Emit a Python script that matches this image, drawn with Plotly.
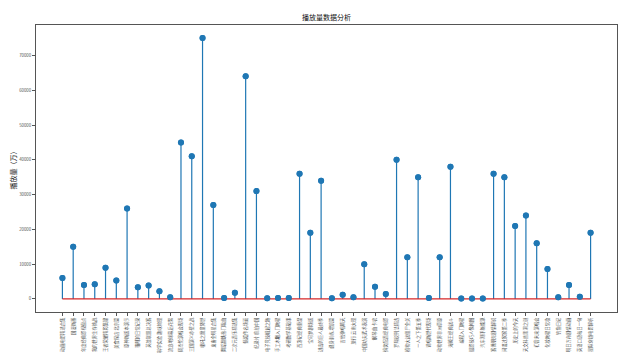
import plotly.graph_objects as go

titles = [
    "动画电影精选合集", "国漫新番", "年度经典影视盘点", "我的世界生存挑战",
    "王者荣耀精彩集锦", "美食探店 北京篇", "原神新版本演示", "猫咪的日常记录",
    "英雄联盟总决赛", "科学实验 趣味物理", "流浪地球幕后花絮", "周杰伦演唱会现场",
    "三国演义赤壁之战", "哪吒之魔童降世", "鬼畜全明星合集", "舞蹈翻跳热门歌曲",
    "二次元音乐精选集", "甄嬛传名场面", "纪录片 航拍中国", "电子竞技崛起之路",
    "手工木雕入门教程", "考研数学基础课", "西游记经典重温", "宝可梦剧场版",
    "进击的巨人最终季", "健身训练 增肌篇", "吉他弹唱晴天", "旅行 云南大理",
    "中国功夫武术表演", "钢琴曲 卡农", "搞笑配音经典电影", "罗翔说刑法精选",
    "植物大战僵尸全关", "一人之下第五季", "说唱新世代现场", "动物世界非洲草原",
    "海贼王经典战斗", "编程入门教程", "摄影技巧人像构图", "汽车测评新能源",
    "赛博朋克剧情解说", "间谍过家家第二季", "历史上的今天", "天文科普黑洞之谜",
    "初音未来演唱会", "化妆教程日常妆", "钓鱼日记", "明日方舟剧情动画",
    "英语口语每日一句", "星际穿越电影解析",
]
plays = [
    6000, 15000, 4000, 4200, 9000, 5300, 26000, 3400, 3900, 2200,
    500, 45000, 41000, 75000, 27000, 300, 1800, 64000, 31000, 200,
    300, 300, 36000, 19000, 34000, 200, 1200, 500, 10000, 3500,
    1400, 40000, 12000, 35000, 300, 12000, 38000, 100, 100, 100,
    36000, 35000, 21000, 24000, 16000, 8600, 500, 4000, 600, 19000,
]
y_ticks = [0, 10000, 20000, 30000, 40000, 50000, 60000, 70000]

idx = list(range(len(plays)))
blue = "#1f77b4"
red = "#d62728"
font = "Noto Sans CJK SC, DejaVu Sans, sans-serif"

fig = go.Figure()
# stems via error bars down to zero
fig.add_trace(go.Scatter(
    x=idx, y=plays, mode="markers",
    marker=dict(color=blue, size=6),
    error_y=dict(type="data", symmetric=False, array=[0] * len(plays), arrayminus=plays,
                 color=blue, thickness=1.2, width=0),
    showlegend=False, hoverinfo="skip",
))
fig.add_trace(go.Scatter(
    x=[idx[0], idx[-1]], y=[0, 0], mode="lines",
    line=dict(color=red, width=1.3), showlegend=False, hoverinfo="skip",
))
fig.add_trace(go.Scatter(
    x=idx, y=plays, mode="markers", marker=dict(color=blue, size=6),
    showlegend=False, hoverinfo="skip",
))

n = len(plays)
pad_x = (n - 1) * 0.05
pad_y = max(plays) * 0.05

fig.update_layout(
    width=631, height=354,
    margin=dict(l=36, r=14, t=25, b=42, autoexpand=False),
    paper_bgcolor="white", plot_bgcolor="white",
    font=dict(family=font, color="#222"),
    title=dict(text="播放量数据分析", x=0.5175, xanchor="center", y=1 - 18 / 354, yanchor="middle",
               font=dict(size=7, color="#111", family=font)),
    xaxis=dict(
        range=[-pad_x, n - 1 + pad_x], tickmode="array", tickvals=idx, ticktext=titles,
        tickangle=-90, tickfont=dict(size=4.3, color="#555"),
        showgrid=False, zeroline=False, showline=True, mirror=True, linecolor="#555", linewidth=1,
        ticks="outside", ticklen=3, tickcolor="#555",
    ),
    yaxis=dict(
        range=[-pad_y, max(plays) + pad_y], tickmode="array", tickvals=y_ticks,
        ticktext=[str(v) for v in y_ticks], tickfont=dict(size=4.3, color="#555"),
        showgrid=False, zeroline=False, showline=True, mirror=True, linecolor="#555", linewidth=1,
        ticks="outside", ticklen=3, tickcolor="#555",
    ),
    annotations=[dict(
        text="播放量（万）", textangle=-90, xref="paper", yref="paper",
        x=-24 / 581, y=0.5, xanchor="center", yanchor="middle", showarrow=False,
        font=dict(size=7, color="#222", family=font),
    )],
)

fig.write_html("out.html")
